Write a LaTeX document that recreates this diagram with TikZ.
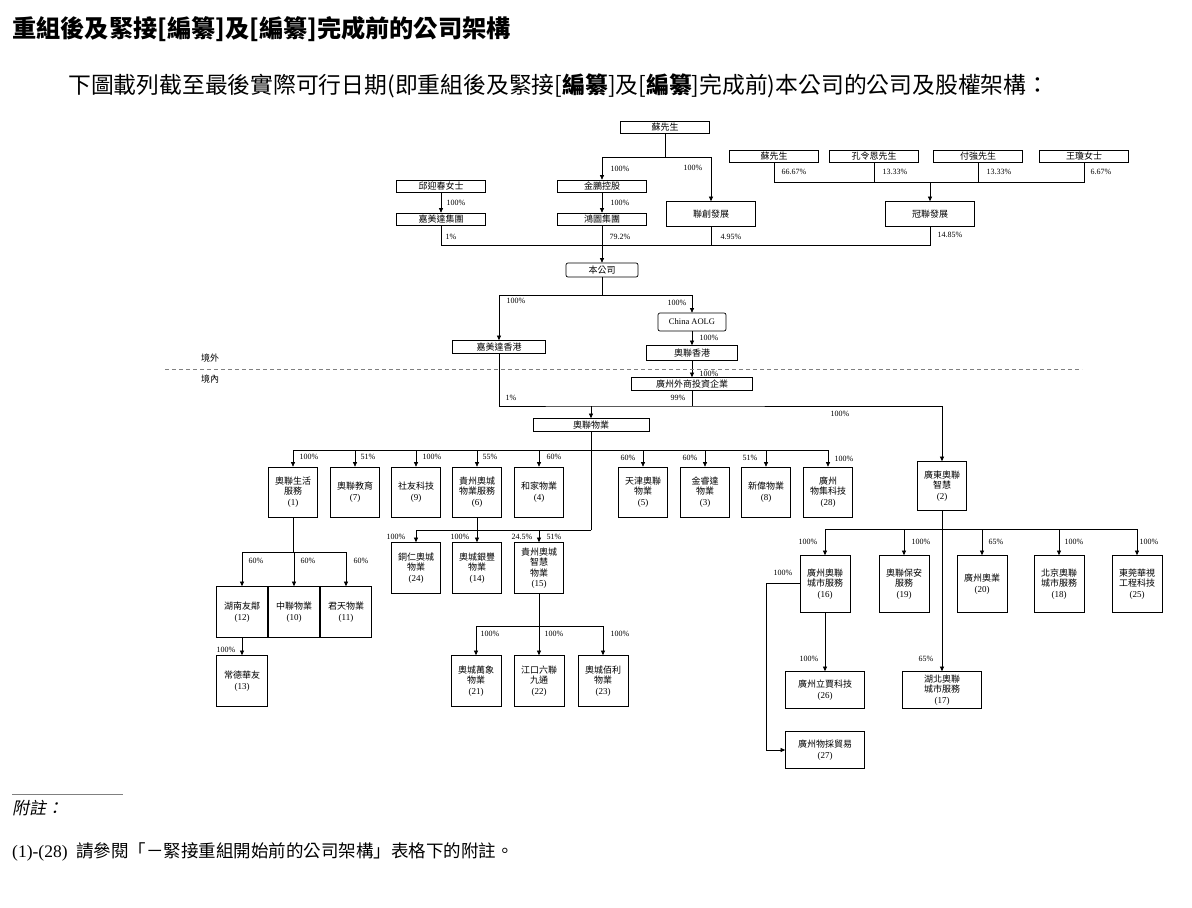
\documentclass[tikz,border=0pt]{standalone}
\usepackage{fontspec}
\setmainfont{Liberation Serif}
\newfontfamily\cjk[AutoFakeSlant=0.2]{Noto Sans CJK TC}
\usetikzlibrary{arrows.meta}
\newcommand\idx[1]{{\rmfamily(#1)}}

\begin{document}
\begin{tikzpicture}[x=1pt, y=-1pt,
    box/.style={draw, rectangle, line width=0.7pt, inner sep=0pt, align=center, font=\cjk\fontsize{9}{10.5}\selectfont},
    hbox/.style={box, minimum width=89pt, minimum height=12pt},
    sbox/.style={box, minimum height=13pt},
    mbox/.style={box, minimum width=89pt, minimum height=25pt},
    ebox/.style={box, minimum width=49pt, minimum height=50pt},
    tbox/.style={box, minimum width=50pt, minimum height=57pt},
    wbox/.style={box, minimum width=79pt, minimum height=37pt},
    pct/.style={inner sep=0pt, font=\fontsize{8}{9}\selectfont},
    lbl/.style={inner sep=0pt, font=\cjk\fontsize{9}{10}\selectfont},
    link/.style={line width=0.6pt},
    arr/.style={link, -{Triangle[length=4.5pt,width=4pt]}}]
        \useasboundingbox (0,0) rectangle (1192,908);

        % heading
        \node[anchor=west, inner sep=0pt, font=\cjk\bfseries\fontsize{24.2}{28}\selectfont] (title) at (12,29) {重組後及緊接[編纂]及[編纂]完成前的公司架構};
        \node[anchor=west, inner sep=0pt, font=\cjk\fontsize{22.8}{26}\selectfont] (intro) at (68,86) {下圖載列截至最後實際可行日期(即重組後及緊接[{\bfseries 編纂}]及[{\bfseries 編纂}]完成前)本公司的公司及股權架構：};

        % shareholders
        \node[hbox] (su) at (665,127) {蘇先生};
        \node[hbox] (qiu) at (441,186) {邱迎春女士};
        \node[hbox] (jmd) at (441,219) {嘉美達集團};
        \node[hbox] (jp) at (602,186) {金鵬控股};
        \node[hbox] (ht) at (602,219) {鴻圖集團};
        \node[mbox] (lc) at (711,214) {聯創發展};
        \node[hbox] (su2) at (774,156) {蘇先生};
        \node[hbox] (kong) at (874,156) {孔令恩先生};
        \node[hbox] (fu) at (978,156) {付強先生};
        \node[hbox] (wang) at (1084,156) {王瓊女士};
        \node[mbox] (gl) at (930,214) {冠聯發展};

        % company and offshore holdings
        \node[sbox, rounded corners=2pt, minimum width=72pt, minimum height=14pt] (co) at (602,270) {本公司};
        \node[sbox, minimum width=93pt] (jmhk) at (499,347) {嘉美達香港};
        \node[sbox, rounded corners=2pt, minimum width=68pt, minimum height=18pt, font=\fontsize{8.5}{10.5}\selectfont] (aolg) at (692,322) {China AOLG};
        \node[sbox, minimum width=91pt, minimum height=15pt] (alhk) at (692,353) {奧聯香港};
        \node[sbox, minimum width=121pt] (wfoe) at (692,384) {廣州外商投資企業};
        \node[sbox, minimum width=116pt] (alwy) at (591,425) {奧聯物業};

        % onshore subsidiaries
        \node[ebox] (n1) at (293,492) {奧聯生活\\服務\\\idx{1}};
        \node[ebox] (n7) at (355,492) {奧聯教育\\\idx{7}};
        \node[ebox] (n9) at (416,492) {社友科技\\\idx{9}};
        \node[ebox] (n6) at (477,492) {貴州奧城\\物業服務\\\idx{6}};
        \node[ebox] (n4) at (539,492) {和家物業\\\idx{4}};
        \node[ebox] (n5) at (643,492) {天津奧聯\\物業\\\idx{5}};
        \node[ebox] (n3) at (705,492) {金睿達\\物業\\\idx{3}};
        \node[ebox] (n8) at (766,492) {新偉物業\\\idx{8}};
        \node[ebox] (n28) at (828,492) {廣州\\物集科技\\\idx{28}};
        \node[ebox, minimum height=49pt] (n2) at (942,486) {廣東奧聯\\智慧\\\idx{2}};
        \node[ebox, minimum height=51pt] (n24) at (416,568) {銅仁奧城\\物業\\\idx{24}};
        \node[ebox, minimum height=51pt] (n14) at (477,568) {奧城銀豐\\物業\\\idx{14}};
        \node[ebox, minimum height=51pt] (n15) at (539,568) {貴州奧城\\智慧\\物業\\\idx{15}};
        \node[ebox, minimum width=51pt, minimum height=51pt] (n12) at (242,612) {湖南友鄰\\\idx{12}};
        \node[ebox, minimum width=51pt, minimum height=51pt] (n10) at (294,612) {中聯物業\\\idx{10}};
        \node[ebox, minimum width=51pt, minimum height=51pt] (n11) at (346,612) {君天物業\\\idx{11}};
        \node[ebox, minimum width=51pt, minimum height=51pt] (n13) at (242,681) {常德華友\\\idx{13}};
        \node[ebox, minimum width=50pt, minimum height=51pt] (n21) at (476,681) {奧城萬象\\物業\\\idx{21}};
        \node[ebox, minimum width=50pt, minimum height=51pt] (n22) at (539,681) {江口六聯\\九通\\\idx{22}};
        \node[ebox, minimum width=50pt, minimum height=51pt] (n23) at (603,681) {奧城佰利\\物業\\\idx{23}};
        \node[tbox] (n16) at (825,584) {廣州奧聯\\城市服務\\\idx{16}};
        \node[tbox] (n19) at (904,584) {奧聯保安\\服務\\\idx{19}};
        \node[tbox] (n20) at (982,584) {廣州奧業\\\idx{20}};
        \node[tbox] (n18) at (1059,584) {北京奧聯\\城市服務\\\idx{18}};
        \node[tbox] (n25) at (1137,584) {東莞華視\\工程科技\\\idx{25}};
        \node[wbox] (n26) at (825,690) {廣州立賈科技\\\idx{26}};
        \node[wbox] (n17) at (942,690) {湖北奧聯\\城市服務\\\idx{17}};
        \node[wbox] (n27) at (825,750) {廣州物採貿易\\\idx{27}};

        % shareholding lines
        \coordinate (t1) at (665,157);
        \draw[link] (su) -- (t1);
        \draw[arr] (t1) -| (jp);
        \draw[arr] (t1) -| (lc);
        \draw[arr] (qiu) -- (jmd);
        \draw[arr] (jp) -- (ht);
        \coordinate (t2) at (930,182);
        \draw[link] (su2) |- (t2);
        \draw[link] (kong) |- (t2);
        \draw[link] (fu) |- (t2);
        \draw[link] (wang) |- (t2);
        \draw[arr] (t2) -- (gl);
        \coordinate (t3) at (602,245);
        \draw[link] (jmd) |- (t3);
        \draw[link] (lc) |- (t3);
        \draw[link] (gl) |- (t3);
        \draw[arr] (ht) -- (co);

        \coordinate (t4) at (602,295);
        \draw[link] (co) -- (t4);
        \draw[arr] (t4) -| (jmhk);
        \draw[arr] (t4) -| (aolg);
        \draw[arr] (aolg) -- (alhk);
        \draw[arr] (alhk) -- (wfoe);
        \coordinate (t5) at (591,406);
        \draw[arr] (jmhk) |- (t5) -| (n2);
        \draw[link] (wfoe) -- (wfoe |- t5);
        \draw[arr] (t5) -- (alwy);

        \coordinate (t6) at (591,450);
        \draw[link] (alwy) -- (t6);
        \draw[arr] (t6) -| (n1);
        \draw[arr] (t6) -| (n7);
        \draw[arr] (t6) -| (n9);
        \draw[arr] (t6) -| (n6);
        \draw[arr] (t6) -| (n4);
        \draw[arr] (t6) -| (n5);
        \draw[arr] (t6) -| (n3);
        \draw[arr] (t6) -| (n8);
        \draw[arr] (t6) -| (n28);
        \coordinate (t7) at (591,530);
        \draw[link] (t6) -- (t7);
        \draw[arr] (t7) -| (n24);
        \draw[arr] (t7) -| (n15);
        \draw[arr] (n6) -- (n14);

        \coordinate (t8) at (293,552);
        \draw[link] (n1) -- (t8);
        \draw[arr] (t8) -| (n12);
        \draw[arr] (t8) -| (n10);
        \draw[arr] (t8) -| (n11);
        \draw[arr] (n12) -- (n13);
        \coordinate (t9) at (539,626);
        \draw[link] (n15) -- (t9);
        \draw[arr] (t9) -| (n21);
        \draw[arr] (t9) -| (n22);
        \draw[arr] (t9) -| (n23);

        \coordinate (t10) at (942,529);
        \draw[arr] (n2) -- (n17);
        \draw[arr] (t10) -| (n16);
        \draw[arr] (t10) -| (n19);
        \draw[arr] (t10) -| (n20);
        \draw[arr] (t10) -| (n18);
        \draw[arr] (t10) -| (n25);
        \draw[arr] (n16) -- (n26);
        \coordinate (t11) at (766,583);
        \draw[arr] (n16.west |- t11) -- (t11) |- (n27);

        % onshore / offshore divide
        \draw[gray, line width=0.7pt, dash pattern=on 4pt off 3pt] (165,369) -- (1082,369);
        \node[lbl] (out) at (210,358) {境外};
        \node[lbl] (in) at (210,379) {境內};

        % percentages
        \node[pct] (q1) at (620,169) {100\%};
        \node[pct] (q2) at (693,168) {100\%};
        \node[pct] (q3) at (456,203) {100\%};
        \node[pct] (q4) at (620,203) {100\%};
        \node[pct] (q5) at (451,237) {1\%};
        \node[pct] (q6) at (620,237) {79.2\%};
        \node[pct] (q7) at (731,237) {4.95\%};
        \node[pct] (q8) at (794,172) {66.67\%};
        \node[pct] (q9) at (895,172) {13.33\%};
        \node[pct] (q10) at (999,172) {13.33\%};
        \node[pct] (q11) at (1101,172) {6.67\%};
        \node[pct] (q12) at (950,235) {14.85\%};
        \node[pct] (q13) at (516,301) {100\%};
        \node[pct] (q14) at (677,303) {100\%};
        \node[pct] (q15) at (709,338) {100\%};
        \node[pct] (q16) at (709,374) {100\%};
        \node[pct] (q17) at (511,398) {1\%};
        \node[pct] (q18) at (678,398) {99\%};
        \node[pct] (q19) at (840,414) {100\%};
        \node[pct] (q20) at (309,457) {100\%};
        \node[pct] (q21) at (368,457) {51\%};
        \node[pct] (q22) at (432,457) {100\%};
        \node[pct] (q23) at (490,457) {55\%};
        \node[pct] (q24) at (554,457) {60\%};
        \node[pct] (q25) at (628,458) {60\%};
        \node[pct] (q26) at (690,458) {60\%};
        \node[pct] (q27) at (750,458) {51\%};
        \node[pct] (q28) at (844,459) {100\%};
        \node[pct] (q29) at (396,537) {100\%};
        \node[pct] (q30) at (460,537) {100\%};
        \node[pct] (q31) at (522,537) {24.5\%};
        \node[pct] (q32) at (554,537) {51\%};
        \node[pct] (q33) at (256,561) {60\%};
        \node[pct] (q34) at (308,561) {60\%};
        \node[pct] (q35) at (361,561) {60\%};
        \node[pct] (q36) at (226,650) {100\%};
        \node[pct] (q37) at (490,634) {100\%};
        \node[pct] (q38) at (554,634) {100\%};
        \node[pct] (q39) at (620,634) {100\%};
        \node[pct] (q40) at (808,542) {100\%};
        \node[pct] (q41) at (921,542) {100\%};
        \node[pct] (q42) at (996,542) {65\%};
        \node[pct] (q43) at (1074,542) {100\%};
        \node[pct] (q44) at (1149,542) {100\%};
        \node[pct] (q45) at (783,573) {100\%};
        \node[pct] (q46) at (809,659) {100\%};
        \node[pct] (q47) at (926,659) {65\%};

        % notes
        \draw[gray, line width=1pt] (12,794) -- (123,794);
        \node[anchor=west, inner sep=0pt, font=\cjk\itshape\fontsize{17}{20}\selectfont] (note) at (12,808) {附註：};
        \node[anchor=west, inner sep=0pt, font=\fontsize{17.5}{20}\selectfont] (notes) at (12,852) {(1)-(28)\ \ {\cjk 請參閱「－緊接重組開始前的公司架構」表格下的附註。}};
    \end{tikzpicture}
\end{document}
